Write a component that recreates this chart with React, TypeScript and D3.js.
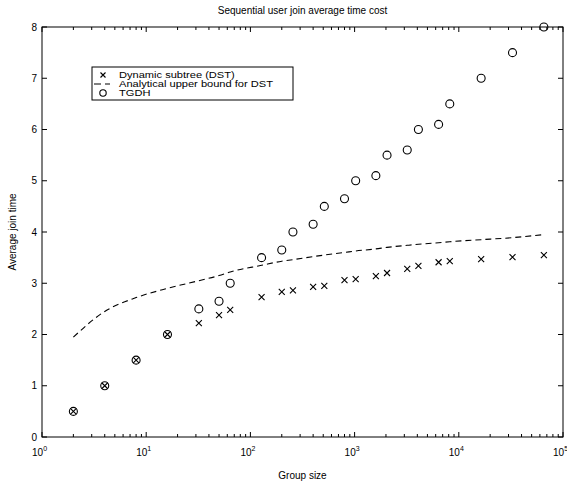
import React from "react";
import * as d3 from "d3";

const groupSizes = [2, 4, 8, 16, 32, 50, 64, 128, 200, 256, 400, 512, 800, 1024, 1600, 2048, 3200, 4096, 6400, 8192, 16384, 32768, 65536];
const dstValues = [0.5, 1.0, 1.5, 2.0, 2.22, 2.38, 2.48, 2.73, 2.83, 2.86, 2.93, 2.95, 3.06, 3.08, 3.14, 3.2, 3.28, 3.34, 3.41, 3.43, 3.47, 3.51, 3.55];
const boundValues = [1.95, 2.45, 2.72, 2.9, 3.05, 3.15, 3.22, 3.35, 3.43, 3.46, 3.52, 3.55, 3.6, 3.63, 3.67, 3.7, 3.74, 3.76, 3.79, 3.81, 3.85, 3.89, 3.95];
const tgdhValues = [0.5, 1.0, 1.5, 2.0, 2.5, 2.65, 3.0, 3.5, 3.65, 4.0, 4.15, 4.5, 4.65, 5.0, 5.1, 5.5, 5.6, 6.0, 6.1, 6.5, 7.0, 7.5, 8.0];
const xTickExps = [0, 1, 2, 3, 4, 5];
const yTicks = [0, 1, 2, 3, 4, 5, 6, 7, 8];
const legendLabels = ["Dynamic subtree (DST)", "Analytical upper bound for DST", "TGDH"];
const titleText = "Sequential user join average time cost";
const xLabel = "Group size";
const yLabel = "Average join time";

const W = 567, H = 483;
const L = 42, R = 563, T = 27, B = 437;
const font = "'Liberation Sans', Arial, sans-serif";

export default function App() {
  const x = d3.scaleLog().domain([1, 1e5]).range([L, R]);
  const y = d3.scaleLinear().domain([0, 8]).range([B, T]);
  const line = d3.line<number>().x((_, i) => x(groupSizes[i])).y((v) => y(v)).curve(d3.curveMonotoneX);

  const minors: number[] = [];
  for (let e = 0; e < 5; e++) for (let m = 2; m <= 9; m++) minors.push(m * Math.pow(10, e));

  const cross = (cx: number, cy: number, s: number, k: string) => (
    <path key={k} d={`M${cx - s},${cy - s}L${cx + s},${cy + s}M${cx - s},${cy + s}L${cx + s},${cy - s}`} stroke="#000" strokeWidth={1.1} fill="none" />
  );

  return (
    <svg width={W} height={H} style={{ position: "absolute", left: 0, top: 0, background: "#fff" }} fontFamily={font}>
      <rect x={0} y={0} width={W} height={H} fill="#fff" />
      <text x={(L + R) / 2} y={14} fontSize={10} textAnchor="middle">{titleText}</text>
      <rect x={L} y={T} width={R - L} height={B - T} fill="none" stroke="#000" strokeWidth={1} />
      {xTickExps.map((e) => {
        const xx = x(Math.pow(10, e));
        return (
          <g key={"xt" + e}>
            <line x1={xx} x2={xx} y1={B} y2={B - 5} stroke="#000" />
            <line x1={xx} x2={xx} y1={T} y2={T + 5} stroke="#000" />
            <text x={xx - 10} y={456} fontSize={10}>10<tspan dy={-5} fontSize={7}>{e}</tspan></text>
          </g>
        );
      })}
      {minors.map((m, i) => (
        <g key={"mn" + i}>
          <line x1={x(m)} x2={x(m)} y1={B} y2={B - 3} stroke="#000" />
          <line x1={x(m)} x2={x(m)} y1={T} y2={T + 3} stroke="#000" />
        </g>
      ))}
      {yTicks.map((t) => (
        <g key={"yt" + t}>
          <line x1={L} x2={L + 5} y1={y(t)} y2={y(t)} stroke="#000" />
          <line x1={R} x2={R - 5} y1={y(t)} y2={y(t)} stroke="#000" />
          <text x={37} y={y(t) + 3.5} fontSize={10} textAnchor="end">{t}</text>
        </g>
      ))}
      <text x={(L + R) / 2} y={479} fontSize={10} textAnchor="middle">{xLabel}</text>
      <text transform={`translate(16,${(T + B) / 2}) rotate(-90)`} fontSize={10} textAnchor="middle">{yLabel}</text>

      <path d={line(boundValues) || ""} fill="none" stroke="#000" strokeWidth={1.1} strokeDasharray="6,4" />
      {dstValues.map((v, i) => cross(x(groupSizes[i]), y(v), 3, "c" + i))}
      {tgdhValues.map((v, i) => (
        <circle key={"o" + i} cx={x(groupSizes[i])} cy={y(v)} r={4} fill="none" stroke="#000" strokeWidth={1.1} />
      ))}

      <rect x={92} y={67} width={201} height={33} fill="#fff" stroke="#000" strokeWidth={1} />
      {cross(103, 75, 2.5, "lg0")}
      <line x1={94} x2={110} y1={84} y2={84} stroke="#000" strokeWidth={1.1} strokeDasharray="7,4" />
      <circle cx={103} cy={93} r={3.2} fill="none" stroke="#000" strokeWidth={1.1} />
      {legendLabels.map((s, i) => (
        <text key={"lt" + i} transform={`translate(119,${78.3 + i * 9}) scale(1.18,1)`} fontSize={9.4}>{s}</text>
      ))}
    </svg>
  );
}
